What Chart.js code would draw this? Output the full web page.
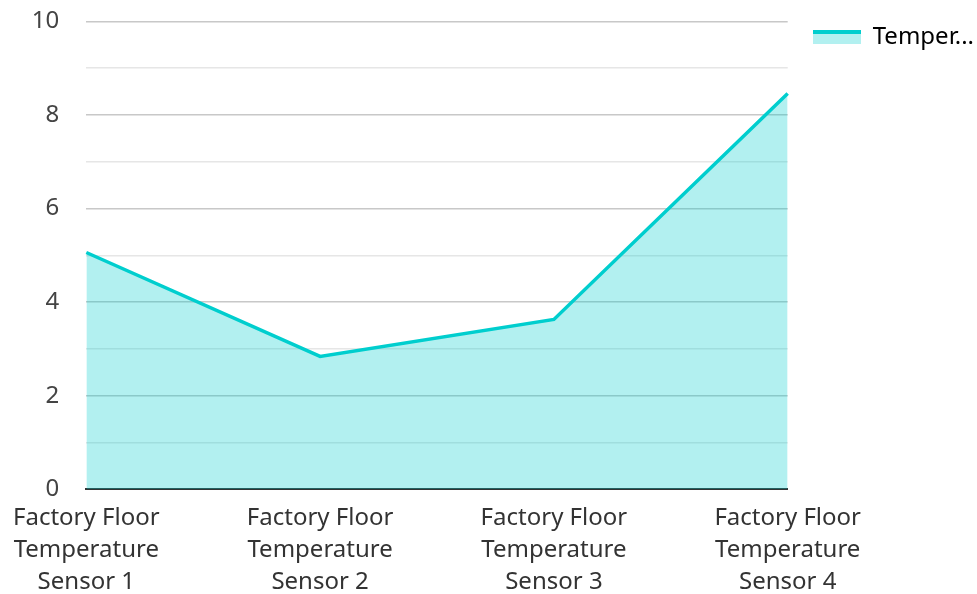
<!DOCTYPE html>
<html lang="en">
<head>
    <meta charset="UTF-8">
    <title>Factory Floor Temperature</title>
    <script src="https://cdn.jsdelivr.net/npm/chart.js"></script>
    <style>
        html, body { margin: 0; padding: 0; background: #fff; }
        #wrap { width: 977px; height: 594px; }
    </style>
</head>
<body>
    <div id="wrap"><canvas id="tempChart"></canvas></div>

    <script>
        // data
        const sensors = [
            ['Factory Floor', 'Temperature', 'Sensor 1'],
            ['Factory Floor', 'Temperature', 'Sensor 2'],
            ['Factory Floor', 'Temperature', 'Sensor 3'],
            ['Factory Floor', 'Temperature', 'Sensor 4']
        ];
        const temperature = [5.06, 2.84, 3.63, 8.46];
        const seriesName = 'Temperature';
        const legendText = 'Temper...';
        const yMin = 0, yMax = 10;

        const lineColor = 'rgb(0, 206, 206)';
        const fillColor = 'rgba(0, 206, 206, 0.3)';

        // legend swatch: thick line with a light fill underneath
        const swatch = document.createElement('canvas');
        swatch.width = 48; swatch.height = 14;
        const sctx = swatch.getContext('2d');
        sctx.fillStyle = fillColor;
        sctx.fillRect(0, 2, 48, 12);
        sctx.fillStyle = lineColor;
        sctx.fillRect(0, 0, 48, 4);

        Chart.defaults.font.family = '"Noto Sans", "Open Sans", sans-serif';
        Chart.defaults.color = '#333';

        const ctx = document.getElementById('tempChart').getContext('2d');
        new Chart(ctx, {
            type: 'line',
            data: {
                labels: sensors,
                datasets: [{
                    label: seriesName,
                    data: temperature,
                    borderColor: lineColor,
                    backgroundColor: fillColor,
                    borderWidth: 3.5,
                    pointRadius: 0,
                    tension: 0,
                    fill: 'origin'
                }]
            },
            options: {
                responsive: true,
                maintainAspectRatio: false,
                animation: false,
                layout: { padding: { top: 0, right: -7, left: 3, bottom: -17 } },
                plugins: {
                    tooltip: { enabled: false },
                    legend: {
                        position: 'right',
                        align: 'start',
                        labels: {
                            usePointStyle: true,
                            pointStyleWidth: 48,
                            padding: 25,
                            font: { size: 24 },
                            color: '#333',
                            generateLabels: () => [{
                                text: legendText,
                                pointStyle: swatch,
                                fillStyle: fillColor,
                                strokeStyle: lineColor,
                                lineWidth: 0,
                                datasetIndex: 0
                            }]
                        }
                    }
                },
                scales: {
                    x: {
                        offset: false,
                        grid: { display: false, drawTicks: false },
                        border: { display: true, color: '#333', width: 2 },
                        ticks: {
                            font: { size: 24, lineHeight: 1.33 },
                            color: '#333',
                            maxRotation: 0,
                            autoSkip: false,
                            padding: 13
                        }
                    },
                    y: {
                        min: yMin,
                        max: yMax,
                        border: { display: false },
                        grid: {
                            drawTicks: true,
                            tickLength: 20,
                            tickColor: 'rgba(0,0,0,0)',
                            lineWidth: 1.5,
                            color: (c) => (c.tick && c.tick.value % 2 === 0) ? '#c8c8c8' : '#e6e6e6'
                        },
                        ticks: {
                            stepSize: 1,
                            padding: 7,
                            font: { size: 24 },
                            color: '#444',
                            callback: (v) => (v % 2 === 0 ? v : '')
                        }
                    }
                }
            }
        });
    </script>
</body>
</html>
